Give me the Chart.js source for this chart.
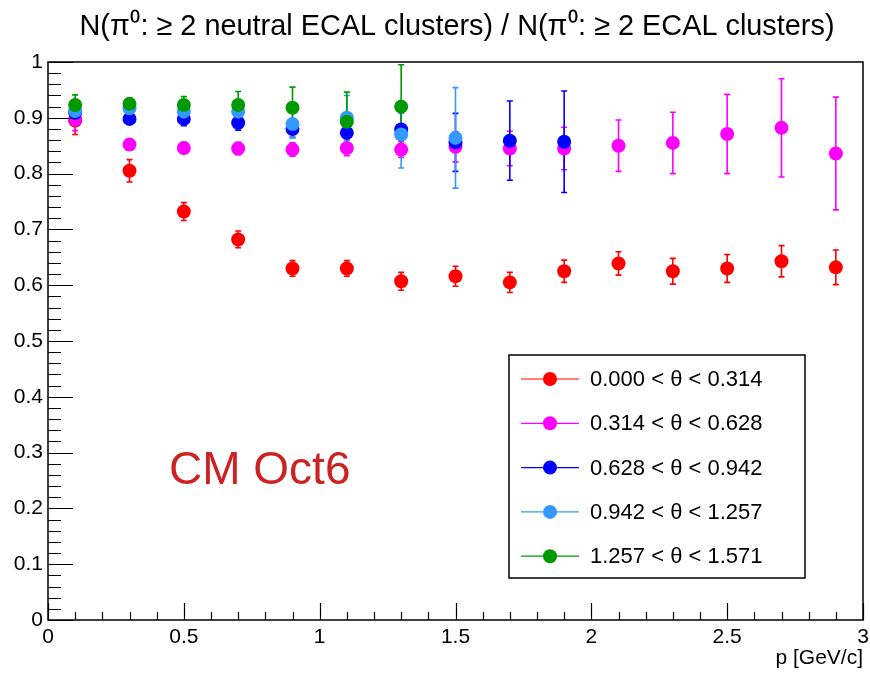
<!DOCTYPE html>
<html>
<head>
<meta charset="utf-8">
<script src="https://cdn.jsdelivr.net/npm/chart.js@4"></script>
<style>
  html, body { margin: 0; padding: 0; background: #fff; }
  #wrap { width: 870px; height: 673px; }
</style>
</head>
<body>
<div id="wrap"><canvas id="ratioChart" width="870" height="673"></canvas></div>
<script>
// Momentum bin centres [GeV/c]
const pBins = [0.1, 0.3, 0.5, 0.7, 0.9, 1.1, 1.3, 1.5, 1.7, 1.9, 2.1, 2.3, 2.5, 2.7, 2.9];

// theta bin labels
const thetaLabels = [
    '0.000 < \u03b8 < 0.314',
    '0.314 < \u03b8 < 0.628',
    '0.628 < \u03b8 < 0.942',
    '0.942 < \u03b8 < 1.257',
    '1.257 < \u03b8 < 1.571'
];

// ratio values per theta bin
const ratio0 = [0.895, 0.805, 0.732, 0.682, 0.630, 0.630, 0.607, 0.616, 0.605, 0.625, 0.639, 0.625, 0.630, 0.643, 0.632];
const err0   = [0.025, 0.020, 0.016, 0.015, 0.014, 0.014, 0.016, 0.018, 0.018, 0.020, 0.021, 0.023, 0.025, 0.028, 0.031];

const ratio1 = [0.897, 0.852, 0.846, 0.845, 0.843, 0.846, 0.843, 0.848, 0.845, 0.845, 0.850, 0.855, 0.871, 0.882, 0.836];
const err1   = [0.020, 0.010, 0.010, 0.011, 0.012, 0.014, 0.014, 0.027, 0.031, 0.038, 0.046, 0.055, 0.071, 0.088, 0.101];

const ratio2 = [0.909, 0.898, 0.898, 0.891, 0.880, 0.873, 0.879, 0.856, 0.859, 0.857];
const err2   = [0.010, 0.010, 0.012, 0.013, 0.015, 0.020, 0.030, 0.052, 0.071, 0.091];

const ratio3 = [0.912, 0.917, 0.911, 0.911, 0.889, 0.900, 0.870, 0.864];
const err3   = [0.010, 0.010, 0.012, 0.015, 0.025, 0.040, 0.060, 0.090];

const ratio4 = [0.923, 0.925, 0.923, 0.923, 0.918, 0.893, 0.920];
const err4   = [0.018, 0.010, 0.015, 0.024, 0.037, 0.053, 0.075];

// axis ticks
const xTicks = [0, 0.5, 1, 1.5, 2, 2.5, 3];
const yTicks = [0, 0.1, 0.2, 0.3, 0.4, 0.5, 0.6, 0.7, 0.8, 0.9, 1];

const seriesColors = ['#ff0000', '#ff00ff', '#0000ff', '#3399ff', '#009900'];
const seriesValues = [ratio0, ratio1, ratio2, ratio3, ratio4];
const seriesErrors = [err0, err1, err2, err3, err4];

const FONT = '"Liberation Sans", Arial, Helvetica, sans-serif';
const TITLE = 'N(\u03c0\u2070: \u2265 2 neutral ECAL clusters) / N(\u03c0\u2070: \u2265 2 ECAL clusters)';

// Build datasets
const datasets = seriesValues.map((vals, i) => ({
    label: thetaLabels[i],
    data: vals.map((v, j) => ({ x: pBins[j], y: v })),
    errors: seriesErrors[i],
    backgroundColor: seriesColors[i],
    borderColor: seriesColors[i],
    pointRadius: 7,
    pointHoverRadius: 7,
    pointBorderWidth: 0,
    showLine: false,
    order: seriesValues.length - i
}));

// Draw vertical error bars with caps, below the markers
const errorBarPlugin = {
    id: 'errorBars',
    beforeDatasetsDraw(chart) {
        const ctx = chart.ctx;
        const xs = chart.scales.x, ys = chart.scales.y;
        ctx.save();
        chart.data.datasets.forEach(ds => {
            ctx.strokeStyle = ds.borderColor;
            ctx.lineWidth = 1.6;
            ds.data.forEach((pt, j) => {
                const e = ds.errors[j];
                const px = xs.getPixelForValue(pt.x);
                const top = ys.getPixelForValue(Math.min(pt.y + e, 1));
                const bot = ys.getPixelForValue(pt.y - e);
                ctx.beginPath();
                ctx.moveTo(px, top);
                ctx.lineTo(px, bot);
                ctx.moveTo(px - 3, top);
                ctx.lineTo(px + 3, top);
                ctx.moveTo(px - 3, bot);
                ctx.lineTo(px + 3, bot);
                ctx.stroke();
            });
        });
        ctx.restore();
    }
};

// ROOT-style frame, inner ticks, titles, legend and label
const decorPlugin = {
    id: 'decor',
    afterDraw(chart) {
        const ctx = chart.ctx;
        const area = chart.chartArea;
        const xs = chart.scales.x, ys = chart.scales.y;
        ctx.save();

        // frame
        ctx.strokeStyle = '#000';
        ctx.lineWidth = 1.5;
        ctx.strokeRect(area.left, area.top, area.right - area.left, area.bottom - area.top);

        // y ticks: major 0.1, minor 0.02
        ctx.lineWidth = 1.2;
        ctx.beginPath();
        for (let k = 0; k <= 50; k++) {
            const py = Math.round(ys.getPixelForValue(k * 0.02)) + 0.5;
            const len = (k % 5 === 0) ? 25 : 13;
            ctx.moveTo(area.left, py);
            ctx.lineTo(area.left + len, py);
        }
        // x ticks: major 0.5, minor 0.1
        for (let k = 0; k <= 30; k++) {
            const px = Math.round(xs.getPixelForValue(k * 0.1)) + 0.5;
            const len = (k % 5 === 0) ? 17 : 8;
            ctx.moveTo(px, area.bottom);
            ctx.lineTo(px, area.bottom - len);
        }
        ctx.stroke();

        // title, squeezed horizontally like the narrow ROOT font
        ctx.fillStyle = '#000';
        ctx.textBaseline = 'alphabetic';
        ctx.textAlign = 'center';
        ctx.font = '30px ' + FONT;
        const tw = ctx.measureText(TITLE).width;
        ctx.save();
        ctx.translate(457, 35);
        ctx.scale(755 / tw, 1);
        ctx.fillText(TITLE, 0, 0);
        ctx.restore();

        // x axis title
        ctx.textAlign = 'right';
        ctx.font = '21px ' + FONT;
        ctx.fillText('p [GeV/c]', area.right, 664);

        // CM Oct6 label
        ctx.textAlign = 'left';
        ctx.fillStyle = '#cc2222';
        ctx.font = '46px ' + FONT;
        ctx.fillText('CM Oct6', 169, 484);

        // legend box
        const lx = 509, ly = 355, lw = 296, lh = 223;
        ctx.fillStyle = '#fff';
        ctx.fillRect(lx, ly, lw, lh);
        ctx.strokeStyle = '#000';
        ctx.lineWidth = 1.5;
        ctx.strokeRect(lx, ly, lw, lh);
        ctx.font = '22px ' + FONT;
        ctx.textBaseline = 'middle';
        chart.data.datasets.forEach((ds, i) => {
            const cy = 379 + i * 44.3;
            ctx.strokeStyle = ds.borderColor;
            ctx.lineWidth = 1.2;
            ctx.beginPath();
            ctx.moveTo(521, cy);
            ctx.lineTo(579, cy);
            ctx.stroke();
            ctx.fillStyle = ds.backgroundColor;
            ctx.beginPath();
            ctx.arc(550, cy, 7, 0, Math.PI * 2);
            ctx.fill();
            ctx.fillStyle = '#000';
            ctx.fillText(ds.label, 590, cy + 1);
        });
        ctx.restore();
    }
};

new Chart(document.getElementById('ratioChart').getContext('2d'), {
    type: 'scatter',
    data: { datasets: datasets },
    options: {
        responsive: false,
        animation: false,
        events: [],
        layout: { padding: { left: 0, right: 4, top: 62, bottom: 0 } },
        plugins: {
            legend: { display: false },
            tooltip: { enabled: false }
        },
        scales: {
            x: {
                type: 'linear',
                min: 0,
                max: 3,
                grid: { display: false, drawTicks: false },
                border: { display: false },
                afterBuildTicks: scale => { scale.ticks = xTicks.map(v => ({ value: v })); },
                afterFit: scale => {
                    scale.height = 53;
                    scale.paddingLeft = 0;
                    scale.paddingRight = 0;
                },
                ticks: {
                    color: '#000',
                    font: { family: FONT, size: 21 },
                    padding: 5,
                    maxRotation: 0,
                    autoSkip: false,
                    callback: v => String(v)
                }
            },
            y: {
                type: 'linear',
                min: 0,
                max: 1,
                grid: { display: false, drawTicks: false },
                border: { display: false },
                afterBuildTicks: scale => { scale.ticks = yTicks.map(v => ({ value: v })); },
                afterFit: scale => {
                    scale.width = 48;
                    scale.paddingTop = 0;
                    scale.paddingBottom = 0;
                },
                ticks: {
                    color: '#000',
                    font: { family: FONT, size: 21 },
                    padding: 5,
                    autoSkip: false,
                    callback: v => String(v)
                }
            }
        }
    },
    plugins: [errorBarPlugin, decorPlugin]
});
</script>
</body>
</html>
